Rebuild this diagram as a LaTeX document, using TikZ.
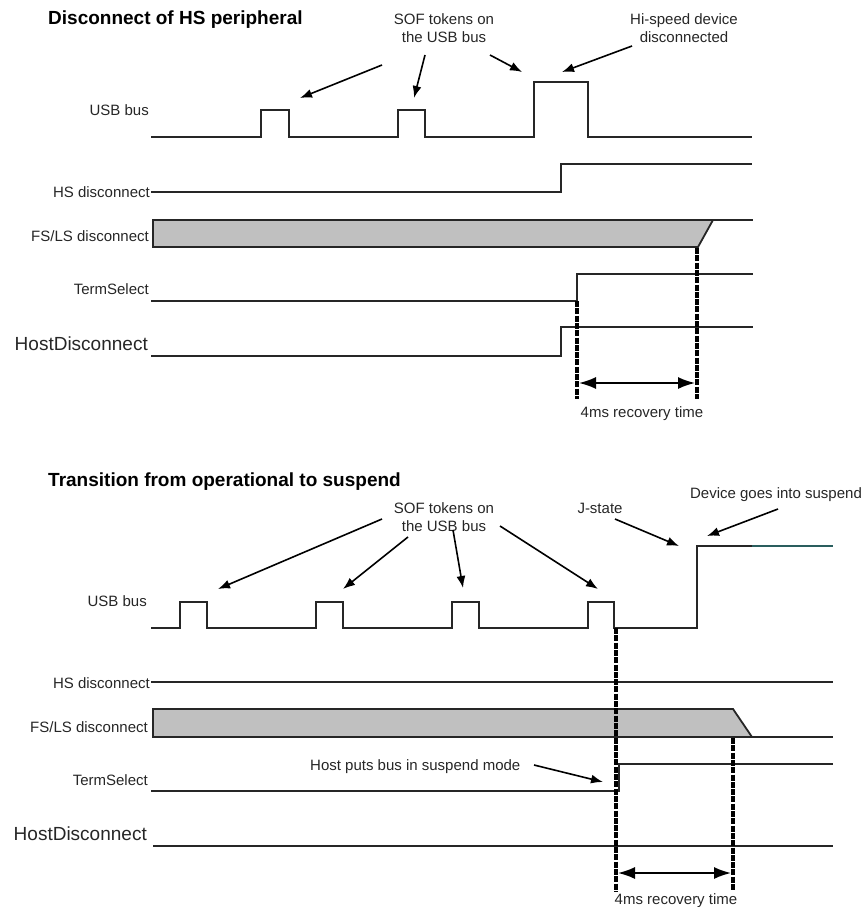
\documentclass[tikz,border=0pt]{standalone}
\usepackage{fontspec}
\setmainfont{Liberation Sans}
\usetikzlibrary{arrows.meta}
\definecolor{fsgray}{HTML}{C0C0C0}
\definecolor{wavecol}{HTML}{262626}
\definecolor{tealline}{HTML}{2A5E5E}
\begin{document}
\begin{tikzpicture}[x=1pt,y=-1pt,
  wave/.style={line width=1.8pt, draw=wavecol, line join=miter},
  lbl/.style={anchor=base east, inner sep=0pt, font=\fontsize{15}{18}\selectfont, text=wavecol},
  biglbl/.style={anchor=base east, inner sep=0pt, font=\fontsize{19}{22}\selectfont, text=wavecol},
  ttl/.style={anchor=base west, inner sep=0pt, font=\bfseries\fontsize{19}{22}\selectfont},
  note/.style={inner sep=0pt, font=\fontsize{15}{18.5}\selectfont, align=center, text=wavecol},
  ann/.style={line width=1.6pt, draw=black, -{Latex[length=12pt,width=9pt]}},
  tmark/.style={line width=3.2pt, draw=black, dash pattern=on 6pt off 1.3pt},
  span/.style={line width=1.7pt, draw=black, {Latex[length=17pt,width=12pt]}-{Latex[length=17pt,width=12pt]}}
]
\useasboundingbox (0,0) rectangle (866,907);

% ---------------- Top diagram ----------------
\node[ttl] (t1) at (48,25) {Disconnect of HS peripheral};
\node[lbl] (l1) at (149,115) {USB bus};
\node[lbl] (l2) at (150,197) {HS disconnect};
\node[lbl] (l3) at (149,241) {FS/LS disconnect};
\node[lbl] (l4) at (149,294) {TermSelect};
\node[biglbl] (l5) at (148,350) {HostDisconnect};

\draw[wave] (151,137) -- (261,137) -- (261,110) -- (289,110) -- (289,137) -- (398,137) -- (398,110) -- (425,110) -- (425,137) -- (534,137) -- (534,82) -- (588,82) -- (588,137) -- (752,137);
\draw[wave] (151,192) -- (561,192) -- (561,164) -- (752,164);
\filldraw[wave, fill=fsgray] (153,247) -- (153,220) -- (713,220) -- (698,247) -- cycle;
\draw[wave] (713,220) -- (753,220);
\draw[wave] (151,301) -- (577,301) -- (577,274) -- (753,274);
\draw[wave] (151,356) -- (561,356) -- (561,327) -- (753,327);

\coordinate (m1t) at (577,301);
\coordinate (m1b) at (577,399);
\coordinate (m2t) at (697,248);
\coordinate (m2b) at (697,399);
\draw[tmark] (m1t) -- (m1b);
\draw[tmark] (m2t) -- (m2b);
\coordinate (r1a) at (579,383);
\coordinate (r1b) at (695,383);
\draw[span] (r1a) -- (r1b);
\node[note, anchor=base] (rt1) at (642,417) {4ms recovery time};

\node[note, anchor=north] (sof1) at (444,13) {SOF tokens on\\the USB bus};
\node[note, anchor=north] (hsd) at (684,13) {Hi-speed device\\disconnected};
\coordinate (a1s) at (382,65);  \coordinate (a1e) at (300,98);
\coordinate (a2s) at (425,55);  \coordinate (a2e) at (414,98);
\coordinate (a3s) at (490,55);  \coordinate (a3e) at (522,72);
\coordinate (a4s) at (632,46);  \coordinate (a4e) at (562,72);
\draw[ann] (a1s) -- (a1e);
\draw[ann] (a2s) -- (a2e);
\draw[ann] (a3s) -- (a3e);
\draw[ann] (a4s) -- (a4e);

% ---------------- Bottom diagram ----------------
\node[ttl] (t2) at (48,486) {Transition from operational to suspend};
\node[lbl] (k1) at (147,606) {USB bus};
\node[lbl] (k2) at (150,688) {HS disconnect};
\node[lbl] (k3) at (148,732) {FS/LS disconnect};
\node[lbl] (k4) at (148,785) {TermSelect};
\node[biglbl] (k5) at (147,840) {HostDisconnect};

\draw[wave] (151,628) -- (180,628) -- (180,602) -- (207,602) -- (207,628) -- (316,628) -- (316,602) -- (343,602) -- (343,628) -- (452,628) -- (452,602) -- (479,602) -- (479,628) -- (588,628) -- (588,602) -- (614,602) -- (614,628) -- (697,628) -- (697,546) -- (752,546);
\draw[wave, draw=tealline] (752,546) -- (833,546);
\draw[wave] (151,682) -- (833,682);
\filldraw[wave, fill=fsgray] (153,737) -- (153,709) -- (733,709) -- (752,737) -- cycle;
\draw[wave] (752,737) -- (833,737);
\draw[wave] (151,791) -- (619,791) -- (619,764) -- (833,764);
\draw[wave] (153,846) -- (833,846);

\coordinate (n1t) at (616,628);
\coordinate (n1b) at (616,891);
\coordinate (n2t) at (733,738);
\coordinate (n2b) at (733,891);
\draw[tmark] (n1t) -- (n1b);
\draw[tmark] (n2t) -- (n2b);
\coordinate (r2a) at (618,873);
\coordinate (r2b) at (731,873);
\draw[span] (r2a) -- (r2b);
\node[note, anchor=base] (rt2) at (676,904) {4ms recovery time};

\node[note, anchor=north] (sof2) at (444,502) {SOF tokens on\\the USB bus};
\node[note, anchor=base] (js) at (600,513) {J-state};
\node[note, anchor=base] (dgs) at (776,498) {Device goes into suspend};
\node[note, anchor=base west] (hpb) at (310,770) {Host puts bus in suspend mode};
\coordinate (b1s) at (382,519);  \coordinate (b1e) at (218,589);
\coordinate (b2s) at (408,537);  \coordinate (b2e) at (343,589);
\coordinate (b3s) at (453,530);  \coordinate (b3e) at (463,588);
\coordinate (b4s) at (500,526);  \coordinate (b4e) at (598,589);
\coordinate (b5s) at (615,519);  \coordinate (b5e) at (679,546);
\coordinate (b6s) at (778,509);  \coordinate (b6e) at (707,536);
\coordinate (b7s) at (534,765);  \coordinate (b7e) at (603,782);
\draw[ann] (b1s) -- (b1e);
\draw[ann] (b2s) -- (b2e);
\draw[ann] (b3s) -- (b3e);
\draw[ann] (b4s) -- (b4e);
\draw[ann] (b5s) -- (b5e);
\draw[ann] (b6s) -- (b6e);
\draw[ann] (b7s) -- (b7e);
\end{tikzpicture}
\end{document}
